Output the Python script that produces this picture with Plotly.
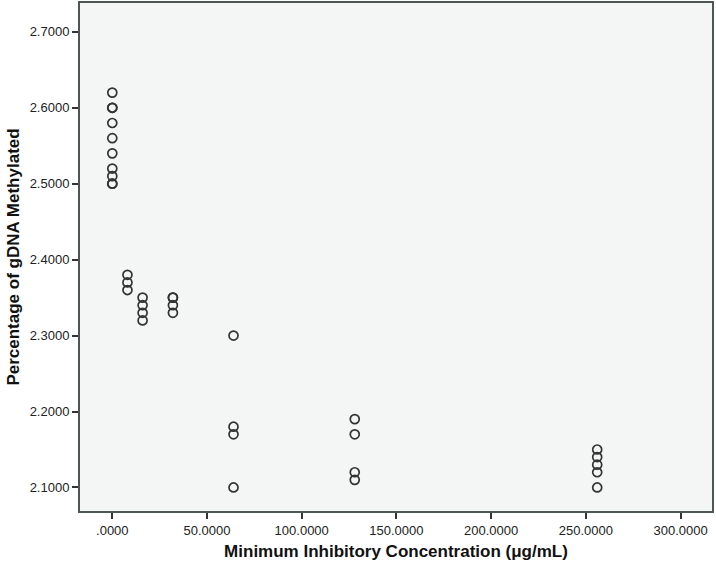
import plotly.graph_objects as go

mic = [0, 0, 0, 0, 0, 0, 0, 0, 0, 0,
       8, 8, 8,
       16, 16, 16, 16,
       32, 32, 32, 32,
       64, 64, 64, 64,
       128, 128, 128, 128,
       256, 256, 256, 256, 256]
methylated = [2.62, 2.60, 2.60, 2.58, 2.56, 2.54, 2.52, 2.51, 2.50, 2.50,
              2.38, 2.37, 2.36,
              2.35, 2.34, 2.33, 2.32,
              2.35, 2.35, 2.34, 2.33,
              2.30, 2.18, 2.17, 2.10,
              2.19, 2.17, 2.12, 2.11,
              2.15, 2.14, 2.13, 2.12, 2.10]

x_tickvals = [0, 50, 100, 150, 200, 250, 300]
x_ticktext = [".0000", "50.0000", "100.0000", "150.0000", "200.0000", "250.0000", "300.0000"]
y_tickvals = [2.1, 2.2, 2.3, 2.4, 2.5, 2.6, 2.7]
y_ticktext = ["2.1000", "2.2000", "2.3000", "2.4000", "2.5000", "2.6000", "2.7000"]

fig = go.Figure()
fig.add_trace(go.Scatter(
    x=mic, y=methylated, mode="markers",
    marker=dict(symbol="circle-open", size=9, color="#333333",
                line=dict(width=1.7, color="#333333")),
    showlegend=False,
))

axis_font = dict(family="Liberation Sans, Arial, sans-serif", size=13, color="#222222")
title_font = dict(family="Liberation Sans, Arial, sans-serif", size=17, color="#111111")

fig.update_layout(
    width=716, height=575,
    margin=dict(l=80, r=4, t=3, b=64, autoexpand=False),
    paper_bgcolor="white",
    plot_bgcolor="#f4f5f5",
    xaxis=dict(
        range=[-17.05, 316.6], tickvals=x_tickvals, ticktext=x_ticktext,
        ticks="outside", ticklen=6, tickwidth=2, tickcolor="#333333",
        showline=True, linecolor="#4d5555", linewidth=2, mirror=True,
        showgrid=False, zeroline=False, tickfont=axis_font, automargin=False,
        title=dict(text="<b>Minimum Inhibitory Concentration (μg/mL)</b>", font=title_font, standoff=9),
    ),
    yaxis=dict(
        range=[2.069, 2.738], tickvals=y_tickvals, ticktext=y_ticktext,
        ticks="outside", ticklen=6, tickwidth=2, tickcolor="#333333",
        showline=True, linecolor="#4d5555", linewidth=2, mirror=True,
        showgrid=False, zeroline=False, tickfont=axis_font, automargin=False,
        title=dict(text="<b>Percentage of gDNA Methylated</b>", font=title_font, standoff=6),
    ),
)

fig.write_html("out.html", config={"displayModeBar": False},
               post_script="document.body.style.margin='0';document.body.style.overflow='hidden';")
